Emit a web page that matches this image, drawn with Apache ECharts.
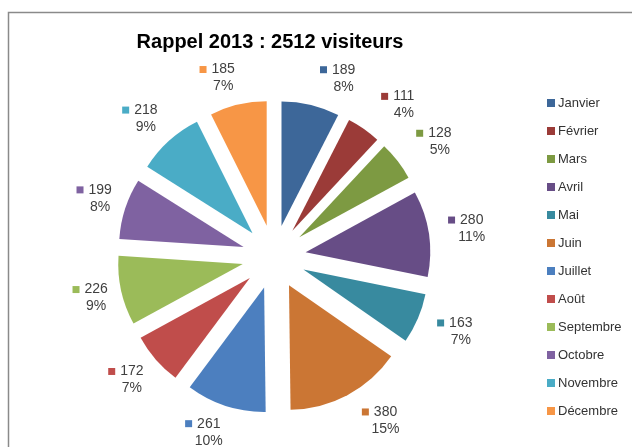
<!DOCTYPE html>
<html>
<head>
<meta charset="utf-8">
<script src="https://cdn.jsdelivr.net/npm/echarts@6/dist/echarts.min.js"></script>
<style>
  html, body { margin: 0; padding: 0; background: #ffffff; }
  #chart { width: 632px; height: 447px; }
</style>
</head>
<body>
<div id="chart"></div>
<script>
// Visiteurs par mois, 2013
const months = ['Janvier', 'Février', 'Mars', 'Avril', 'Mai', 'Juin',
                'Juillet', 'Août', 'Septembre', 'Octobre', 'Novembre', 'Décembre'];
const visitors = [189, 111, 128, 280, 163, 380, 261, 172, 226, 199, 218, 185];
const colors = ['#3D6799', '#9B3B38', '#7D9A42', '#674D86', '#388A9F', '#CB7634',
                '#4C7FBF', '#C04D4B', '#9BBB59', '#7F62A1', '#4AACC6', '#F79646'];
const total = visitors.reduce((a, b) => a + b, 0);

const FONT = "'Liberation Sans', Arial, sans-serif";

// Mid angle of each slice, clockwise from 12 o'clock
const midAngles = [];
visitors.reduce((cum, v) => {
  midAngles.push((cum + v / 2) / total * Math.PI * 2);
  return cum + v;
}, 0);

const data = months.map((name, i) => ({
  name: name,
  value: visitors[i],
  selected: true,
  itemStyle: { color: colors[i] },
  label: { rich: { sq: { width: 7, height: 7, backgroundColor: colors[i] } } }
}));

const chart = echarts.init(document.getElementById('chart'), null, { renderer: 'canvas' });

chart.setOption({
  animation: false,
  backgroundColor: '#ffffff',
  title: {
    text: 'Rappel ' + 2013 + ' : ' + total + ' visiteurs',
    left: 265,
    top: 27,
    textAlign: 'center',
    textStyle: { fontFamily: FONT, fontSize: 20, fontWeight: 'bold', color: '#000000' }
  },
  legend: {
    orient: 'vertical',
    left: 542,
    top: 90,
    icon: 'rect',
    itemWidth: 8,
    itemHeight: 8,
    itemGap: 12,
    selectedMode: false,
    textStyle: { fontFamily: FONT, fontSize: 13, lineHeight: 16, color: '#333333', padding: [0, 0, 0, -2] },
    data: months
  },
  graphic: [{
    type: 'rect',
    shape: { x: 8.5, y: 12.5, width: 700, height: 600 },
    style: { fill: 'none', stroke: '#8a8a8a', lineWidth: 1.5 },
    silent: true
  }],
  series: [{
    type: 'pie',
    center: [274, 257],
    radius: 124.5,
    startAngle: 90,
    clockwise: true,
    selectedMode: 'multiple',
    selectedOffset: 32,
    percentPrecision: 0,
    avoidLabelOverlap: false,
    emphasis: { disabled: true },
    select: { itemStyle: { borderWidth: 0 } },
    label: {
      show: true,
      position: 'outside',
      distanceToLabelLine: 0,
      fontFamily: FONT,
      fontSize: 14,
      lineHeight: 17,
      color: '#404040',
      formatter: (p) => '{sq|}{sp|}' + p.value + '\n{gap|}' + p.percent + '%',
      rich: {
        sp: { width: 5 },
        gap: { width: 12 }
      }
    },
    labelLine: { show: false, length: 34, length2: 0 },
    // Centre each label on its anchor, nudging labels near the vertical axis
    // sideways and slightly inwards so they clear the slices.
    labelLayout: (p) => {
      const a = midAngles[p.dataIndex];
      const s = Math.sin(a), c = Math.cos(a);
      return {
        align: 'center',
        verticalAlign: 'middle',
        dx: 3 + Math.sign(s) * 17 * c * c,
        dy: 7 * c * c * c
      };
    },
    data: data
  }]
});
</script>
</body>
</html>
